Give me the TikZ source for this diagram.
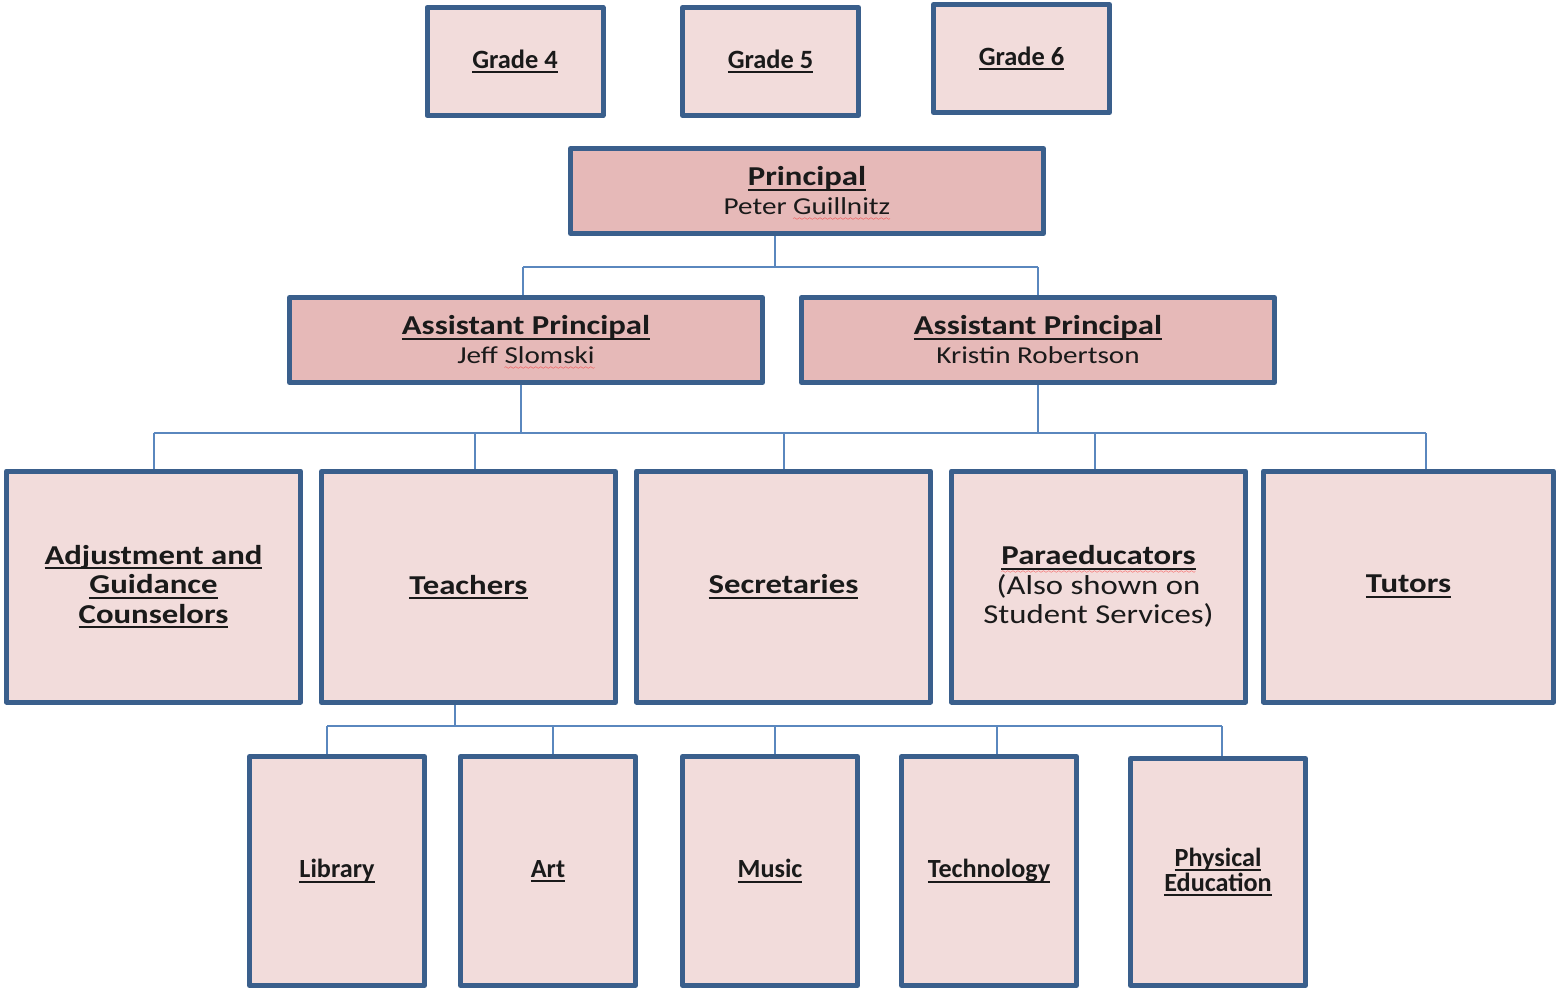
\documentclass[tikz,border=0pt]{standalone}
\usepackage{fontspec}
\setmainfont{Carlito}
\newfontfamily\widefont[FakeStretch=1.2]{Carlito}
\usetikzlibrary{backgrounds}

\definecolor{edge}{HTML}{3A5F8C}
\definecolor{paleFill}{HTML}{F2DCDB}
\definecolor{roseFill}{HTML}{E6B9B8}
\definecolor{wire}{HTML}{5A87BE}
\definecolor{ink}{HTML}{1A1A1A}

% underlined title text
\newcommand\ttl[1]{\setbox0\hbox{#1}\rlap{\rule[-5pt]{\wd0}{1.8pt}}\box0}
% red wavy spelling mark under a word
\font\wavefont=lasy6
\newcommand\sqg[2][7pt]{\setbox0\hbox{#2}\rlap{\raisebox{-#1}[0pt][0pt]{\color{red}\hbox to \wd0{\xleaders\hbox{\wavefont\char58}\hfil}}}\box0}

\newcommand\gradefont{\bfseries\fontsize{26.4}{30}\selectfont}
\newcommand\headfont{\widefont\bfseries\fontsize{27.3}{29}\selectfont}
\newcommand\namefont{\mdseries\fontsize{24.3}{29}\selectfont}
\newcommand\staffont{\widefont\bfseries\fontsize{27.3}{29.5}\selectfont}
\newcommand\subjfont{\bfseries\fontsize{26.2}{25}\selectfont}

\begin{document}
\begin{tikzpicture}[x=1pt,y=-1pt,
  box/.style={draw=edge, line width=5pt, line join=round, fill=paleFill,
    inner sep=0pt, align=center, text=ink},
  lead/.style={box, fill=roseFill},
  grade/.style={box, minimum width=176pt, minimum height=108pt, font=\gradefont},
  staff/.style={box, minimum width=294pt, minimum height=231pt, font=\staffont},
  subj/.style={box, minimum width=175pt, minimum height=229pt, font=\subjfont},
  conn/.style={draw=wire, line width=2pt}]

\useasboundingbox (0,0) rectangle (1558,990);

% grade levels
\node[grade] (g4) at (515,61.5) {\ttl{Grade 4}};
\node[grade] (g5) at (770.5,61.5) {\ttl{Grade 5}};
\node[grade] (g6) at (1021.5,58.5) {\ttl{Grade 6}};

% administration
\node[lead, minimum width=473pt, minimum height=85pt, font=\headfont] (prin) at (807,191)
  {\ttl{Principal}\\\namefont Peter \sqg[6pt]{Guillnitz}};
\node[lead, minimum width=473pt, minimum height=85pt, font=\headfont] (ap1) at (526,340)
  {\ttl{Assistant Principal}\\\namefont Jeff \sqg[6pt]{Slomski}};
\node[lead, minimum width=473pt, minimum height=85pt, font=\headfont] (ap2) at (1038,340)
  {\ttl{Assistant Principal}\\\namefont Kristin Robertson};

% staff groups
\node[staff] (adj) at (153.5,586.5) {\ttl{Adjustment and}\\\ttl{Guidance}\\\ttl{Counselors}};
\node[staff] (tch) at (468.5,587) {\ttl{Teachers}};
\node[staff] (sec) at (783.5,586.5) {\ttl{Secretaries}};
\node[staff] (par) at (1098.5,586.5)
  {\sqg[8.5pt]{\ttl{Paraeducators}}\\\mdseries(Also shown on\\\mdseries Student Services)};
\node[staff, minimum width=290pt] (tut) at (1408.5,586.5) {\ttl{Tutors}};

% subject teachers
\node[subj] (lib) at (337,871) {\ttl{Library}};
\node[subj] (art) at (548,871) {\ttl{Art}};
\node[subj] (mus) at (770,871) {\ttl{Music}};
\node[subj] (tec) at (989,871) {\ttl{Technology}};
\node[subj, minimum height=227pt] (pe) at (1218,872) {\ttl{Physical}\\\ttl{Education}};

% connector levels
\coordinate (b1) at (0,267);
\coordinate (b2) at (0,433);
\coordinate (b3) at (0,726);

\begin{pgfonlayer}{background}
  % principal to assistant principals
  \draw[conn] ([xshift=-32pt]prin.south) -- ([xshift=-32pt]prin.south |- b1);
  \draw[conn] ([xshift=-3pt]ap1.north |- b1) -- (ap2.north |- b1);
  \draw[conn] ([xshift=-3pt]ap1.north |- b1) -- ([xshift=-3pt]ap1.north);
  \draw[conn] (ap2.north |- b1) -- (ap2.north);
  % assistant principals to staff
  \draw[conn] ([xshift=-5pt]ap1.south) -- ([xshift=-5pt]ap1.south |- b2);
  \draw[conn] (ap2.south) -- (ap2.south |- b2);
  \draw[conn] (adj.north |- b2) -- ([xshift=17.5pt]tut.north |- b2);
  \draw[conn] (adj.north |- b2) -- (adj.north);
  \draw[conn] ([xshift=6.5pt]tch.north |- b2) -- ([xshift=6.5pt]tch.north);
  \draw[conn] (sec.north |- b2) -- (sec.north);
  \draw[conn] ([xshift=-3.5pt]par.north |- b2) -- ([xshift=-3.5pt]par.north);
  \draw[conn] ([xshift=17.5pt]tut.north |- b2) -- ([xshift=17.5pt]tut.north);
  % teachers to subjects
  \draw[conn] ([xshift=-13.5pt]tch.south) -- ([xshift=-13.5pt]tch.south |- b3);
  \draw[conn] ([xshift=-10pt]lib.north |- b3) -- ([xshift=4pt]pe.north |- b3);
  \draw[conn] ([xshift=-10pt]lib.north |- b3) -- ([xshift=-10pt]lib.north);
  \draw[conn] ([xshift=5pt]art.north |- b3) -- ([xshift=5pt]art.north);
  \draw[conn] ([xshift=5pt]mus.north |- b3) -- ([xshift=5pt]mus.north);
  \draw[conn] ([xshift=8pt]tec.north |- b3) -- ([xshift=8pt]tec.north);
  \draw[conn] ([xshift=4pt]pe.north |- b3) -- ([xshift=4pt]pe.north);
\end{pgfonlayer}
\end{tikzpicture}
\end{document}
